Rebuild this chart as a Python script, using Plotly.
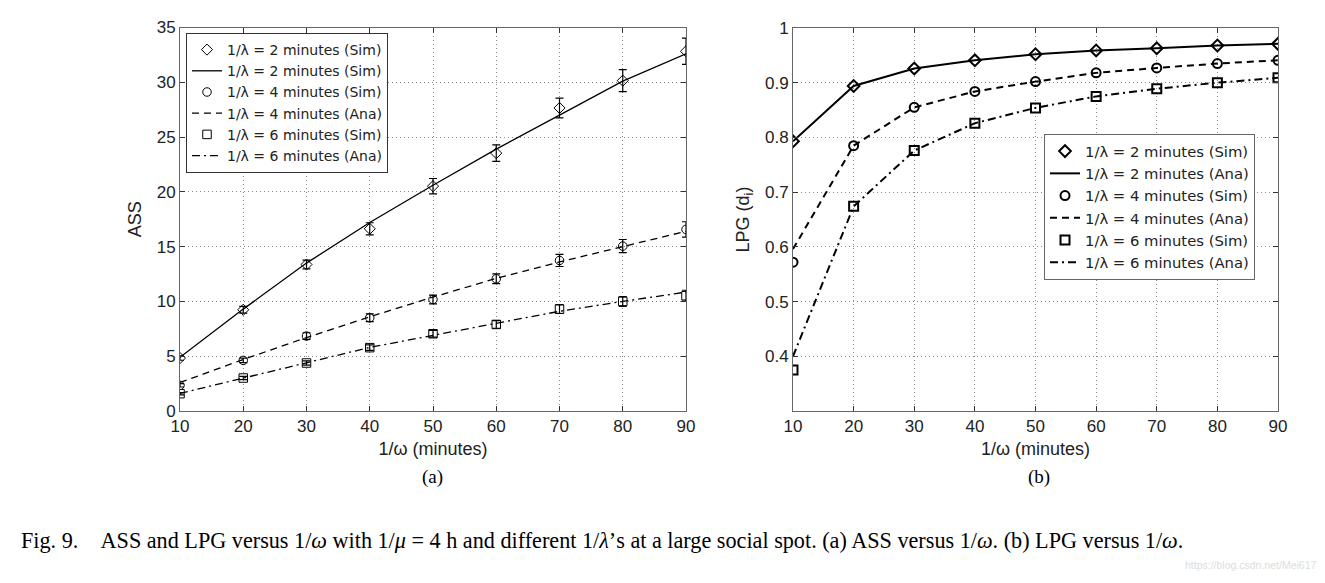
import plotly.graph_objects as go

omega_inv = [10, 20, 30, 40, 50, 60, 70, 80, 90]

# (a) ASS
ass_sim_2 = [4.83, 9.24, 13.37, 16.63, 20.52, 23.53, 27.66, 30.15, 32.83]
ass_err_2 = [0.2, 0.3, 0.4, 0.55, 0.7, 0.75, 0.9, 1.0, 1.2]
ass_ana_2 = [4.9, 9.3, 13.5, 17.2, 20.6, 23.9, 27.0, 30.1, 32.6]
ass_sim_4 = [2.34, 4.62, 6.84, 8.51, 10.18, 12.07, 13.74, 15.05, 16.57]
ass_err_4 = [0.15, 0.2, 0.3, 0.35, 0.4, 0.45, 0.55, 0.6, 0.7]
ass_ana_4 = [2.6, 4.7, 6.7, 8.6, 10.4, 12.1, 13.6, 15.0, 16.4]
ass_sim_6 = [1.58, 3.01, 4.38, 5.78, 7.05, 7.9, 9.3, 10.0, 10.52]
ass_err_6 = [0.1, 0.15, 0.2, 0.25, 0.3, 0.35, 0.4, 0.45, 0.5]
ass_ana_6 = [1.6, 3.0, 4.4, 5.8, 6.9, 8.0, 9.1, 10.0, 10.85]

# (b) LPG
lpg_sim_2 = [0.793, 0.894, 0.926, 0.941, 0.952, 0.959, 0.963, 0.968, 0.971]
lpg_ana_2 = [0.793, 0.894, 0.926, 0.941, 0.952, 0.959, 0.963, 0.968, 0.971]
lpg_sim_4 = [0.572, 0.785, 0.855, 0.884, 0.902, 0.918, 0.927, 0.935, 0.941]
lpg_ana_4 = [0.596, 0.785, 0.855, 0.884, 0.902, 0.918, 0.927, 0.935, 0.941]
lpg_sim_6 = [0.375, 0.674, 0.776, 0.826, 0.854, 0.875, 0.889, 0.900, 0.909]
lpg_ana_6 = [0.40, 0.674, 0.776, 0.826, 0.854, 0.875, 0.889, 0.900, 0.909]

legend_a = ["1/λ = 2 minutes (Sim)", "1/λ = 2 minutes (Sim)",
            "1/λ = 4 minutes (Sim)", "1/λ = 4 minutes (Ana)",
            "1/λ = 6 minutes (Sim)", "1/λ = 6 minutes (Ana)"]
legend_b = ["1/λ = 2 minutes (Sim)", "1/λ = 2 minutes (Ana)",
            "1/λ = 4 minutes (Sim)", "1/λ = 4 minutes (Ana)",
            "1/λ = 6 minutes (Sim)", "1/λ = 6 minutes (Ana)"]

DASH = "7px,5px"
DASHDOT = "8px,4px,2px,4px"
K = "black"
FW, FH = 1325, 583
OFF = 8  # page body offset

fig = go.Figure()

def err(e):
    return dict(type="data", array=e, visible=True, color=K, thickness=1.2, width=4)

# left
sims_a = [(ass_sim_2, ass_err_2, "diamond-open"), (ass_sim_4, ass_err_4, "circle-open"), (ass_sim_6, ass_err_6, "square-open")]
anas_a = [(ass_ana_2, "solid"), (ass_ana_4, DASH), (ass_ana_6, DASHDOT)]
for i in range(3):
    ys, e, sym = sims_a[i]
    fig.add_trace(go.Scatter(x=omega_inv, y=ys, mode="markers", name=legend_a[2 * i],
                             marker=dict(symbol=sym, size=8.5, color=K, line=dict(width=1, color=K)),
                             error_y=err(e), xaxis="x", yaxis="y", legend="legend"))
    ya, d = anas_a[i]
    fig.add_trace(go.Scatter(x=omega_inv, y=ya, mode="lines", name=legend_a[2 * i + 1],
                             line=dict(color=K, width=1.3, dash=d), xaxis="x", yaxis="y", legend="legend"))

# right
sims_b = [(lpg_sim_2, "diamond-open"), (lpg_sim_4, "circle-open"), (lpg_sim_6, "square-open")]
anas_b = [(lpg_ana_2, "solid"), (lpg_ana_4, DASH), (lpg_ana_6, DASHDOT)]
for i in range(3):
    ys, sym = sims_b[i]
    fig.add_trace(go.Scatter(x=omega_inv, y=ys, mode="markers", name=legend_b[2 * i],
                             marker=dict(symbol=sym, size=9, color=K, line=dict(width=2, color=K)),
                             xaxis="x2", yaxis="y2", legend="legend2"))
    ya, d = anas_b[i]
    fig.add_trace(go.Scatter(x=omega_inv, y=ya, mode="lines", name=legend_b[2 * i + 1],
                             line=dict(color=K, width=2, dash=d), xaxis="x2", yaxis="y2", legend="legend2"))

SANS = "Liberation Sans, Arial, sans-serif"
LEGF = "DejaVu Sans, Liberation Sans, sans-serif"
axfont = dict(family=SANS, size=17, color="#222")
common = dict(showline=True, linecolor="#666", linewidth=1, mirror="ticks", ticks="inside", ticklen=5,
              tickcolor="#333", showgrid=True, gridcolor="#888", griddash="1px,3px", gridwidth=1,
              zeroline=False, tickfont=axfont, automargin=False)

def px_x(p):
    return (p - OFF) / FW

def px_y(p):
    return 1 - (p - OFF) / FH

tick_x = [10, 20, 30, 40, 50, 60, 70, 80, 90]
title_font = dict(family=SANS, size=18, color="#222")
fig.update_layout(
    width=FW, height=FH, margin=dict(l=0, r=0, t=0, b=0, autoexpand=False),
    paper_bgcolor="white", plot_bgcolor="white", showlegend=True,
    xaxis=dict(domain=[px_x(180), px_x(686)], range=[10, 90], tickvals=tick_x,
               title=dict(text="1/ω (minutes)", font=title_font, standoff=6),
               anchor="y", **common),
    yaxis=dict(domain=[px_y(411), px_y(27.5)], range=[0, 35], tickvals=[0, 5, 10, 15, 20, 25, 30, 35],
               title=dict(text="ASS", font=title_font, standoff=10),
               anchor="x", **common),
    xaxis2=dict(domain=[px_x(793), px_x(1278)], range=[10, 90], tickvals=tick_x,
                title=dict(text="1/ω (minutes)", font=title_font, standoff=6),
                anchor="y2", **common),
    yaxis2=dict(domain=[px_y(411), px_y(28)], range=[0.3, 1.0], tickvals=[0.4, 0.5, 0.6, 0.7, 0.8, 0.9, 1.0],
                ticktext=["0.4", "0.5", "0.6", "0.7", "0.8", "0.9", "1"],
                title=dict(text="LPG (d<sub>i</sub>)", font=title_font, standoff=10),
                anchor="x2", **common),
    legend=dict(x=px_x(186), y=px_y(33), xanchor="left", yanchor="top",
                bgcolor="white", bordercolor="#333", borderwidth=1,
                font=dict(family=LEGF, size=14, color="#222"), tracegroupgap=0),
    legend2=dict(x=px_x(1044), y=px_y(134), xanchor="left", yanchor="top",
                 bgcolor="white", bordercolor="#666", borderwidth=1,
                 font=dict(family=LEGF, size=14.8, color="#222"), tracegroupgap=0),
)

serif = "Liberation Serif, Times New Roman, serif"
fig.add_annotation(text="(a)", x=px_x(432), y=px_y(477), xref="paper", yref="paper", xanchor="center",
                   yanchor="middle", showarrow=False, font=dict(family=serif, size=19, color=K))
fig.add_annotation(text="(b)", x=px_x(1039), y=px_y(477), xref="paper", yref="paper", xanchor="center",
                   yanchor="middle", showarrow=False, font=dict(family=serif, size=19, color=K))
caption = ("Fig. 9.&nbsp;&nbsp;&nbsp;&nbsp;ASS and LPG versus 1/<i>ω</i> with 1/<i>μ</i> = 4 h and different 1/<i>λ</i>’s "
           "at a large social spot. (a) ASS versus 1/<i>ω</i>. (b) LPG versus 1/<i>ω</i>.")
fig.add_annotation(text=caption, x=px_x(19), y=px_y(540), xref="paper", yref="paper", xanchor="left",
                   yanchor="middle", showarrow=False, font=dict(family=serif, size=22.2, color=K))
fig.add_annotation(text="https://blog.csdn.net/Mei617", x=px_x(1318), y=px_y(565), xref="paper", yref="paper",
                   xanchor="right", yanchor="middle", showarrow=False,
                   font=dict(family=SANS, size=10.5, color="#dddddd"))

fig.write_html("out.html")
